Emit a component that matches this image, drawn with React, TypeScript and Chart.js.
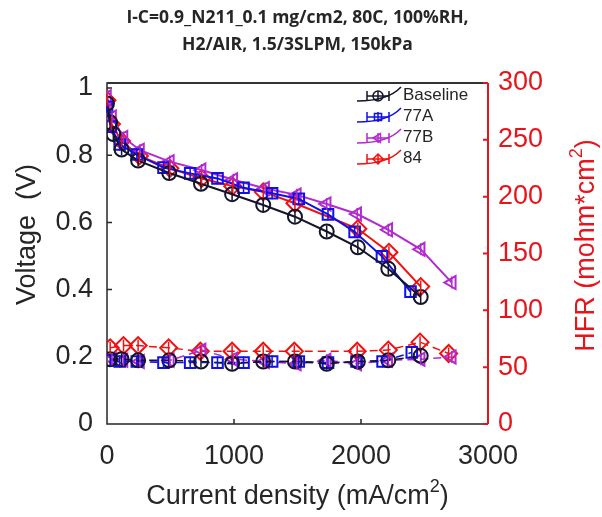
import React, { useEffect, useRef } from 'react';
import { Chart, registerables } from 'chart.js';

Chart.register(...registerables);

const titleLines = ['I-C=0.9_N211_0.1 mg/cm2, 80C, 100%RH,', 'H2/AIR, 1.5/3SLPM, 150kPa'];
const xTitle = ['Current density (mA/cm', '2', ')'];
const yTitle = 'Voltage  (V)';
const y1Title = ['HFR (mohm*cm', '2', ')'];

const seriesNames = ['Baseline', '77A', '77B', '84'];
const seriesColors = ['#14142b', '#1010e8', '#b22ad0', '#f01010'];
const markerStyles = ['circle', 'rect', 'triangle', 'rectRot'];
const markerRotations = [0, 0, -90, 0];
const markerRadii = [7, 7.5, 7.5, 8.5];

const xTicks = [0, 1000, 2000, 3000];
const vTicks = [0, 0.2, 0.4, 0.6, 0.8, 1];
const hfrTicks = [0, 50, 100, 150, 200, 250, 300];

// Baseline
const baselineCurrent = [0, 25, 50, 115, 245, 490, 740, 985, 1230, 1480, 1730, 1975, 2215, 2470];
const baselineVoltage = [0.954, 0.898, 0.863, 0.817, 0.784, 0.747, 0.715, 0.684, 0.652, 0.617, 0.573, 0.526, 0.462, 0.378];
const baselineHfrCurrent = [25, 115, 245, 490, 740, 985, 1230, 1480, 1730, 1975, 2215, 2470];
const baselineHfr = [57, 57, 56, 56, 55, 53, 55, 55, 53, 55, 56, 60];

// 77A
const a77Current = [0, 30, 100, 235, 445, 655, 870, 1075, 1300, 1510, 1740, 1950, 2165, 2390];
const a77Voltage = [0.944, 0.885, 0.832, 0.802, 0.763, 0.746, 0.731, 0.703, 0.687, 0.67, 0.624, 0.572, 0.499, 0.394];
const a77HfrCurrent = [30, 100, 235, 445, 655, 870, 1075, 1300, 1510, 1740, 1965, 2170, 2400];
const a77Hfr = [56, 55, 55, 54, 54, 54, 54, 55, 55, 54, 55, 55, 63];

// 77B
const b77Current = [0, 40, 130, 260, 495, 745, 995, 1245, 1495, 1730, 1970, 2215, 2470, 2715];
const b77Voltage = [0.974, 0.914, 0.853, 0.815, 0.781, 0.756, 0.727, 0.701, 0.682, 0.655, 0.625, 0.578, 0.52, 0.421];
const b77HfrCurrent = [40, 130, 260, 495, 745, 995, 1245, 1495, 1730, 1970, 2215, 2470, 2715];
const b77Hfr = [57, 56, 55, 56, 65, 57, 55, 53, 56, 53, 56, 57, 59];

// 84
const s84Current = [0, 35, 115, 255, 495, 745, 990, 1230, 1480, 1975, 2220, 2470];
const s84Voltage = [0.964, 0.893, 0.842, 0.798, 0.761, 0.731, 0.708, 0.691, 0.657, 0.581, 0.511, 0.409];
const s84HfrCurrent = [25, 130, 245, 485, 735, 985, 1230, 1475, 1970, 2215, 2465, 2690];
const s84Hfr = [67, 69, 69, 67, 64, 64, 64, 64, 64, 65, 72, 62];

const voltageSets = [
  [baselineCurrent, baselineVoltage],
  [a77Current, a77Voltage],
  [b77Current, b77Voltage],
  [s84Current, s84Voltage],
];
const hfrSets = [
  [baselineHfrCurrent, baselineHfr],
  [a77HfrCurrent, a77Hfr],
  [b77HfrCurrent, b77Hfr],
  [s84HfrCurrent, s84Hfr],
];

const AXIS_FONT = '"Liberation Sans", Arial, sans-serif';
const AXIS_COLOR = '#262626';
const RED_AXIS = '#e8141c';

function toPoints(xs: number[], ys: number[]) {
  return xs.map((x, i) => ({ x, y: ys[i] }));
}

function drawMarker(ctx: CanvasRenderingContext2D, style: string, x: number, y: number, r: number, rot: number) {
  ctx.beginPath();
  if (style === 'circle') {
    ctx.arc(x, y, r, 0, Math.PI * 2);
  } else if (style === 'rect') {
    const s = r * Math.SQRT1_2;
    ctx.rect(x - s, y - s, 2 * s, 2 * s);
  } else if (style === 'rectRot') {
    ctx.moveTo(x, y - r);
    ctx.lineTo(x + r, y);
    ctx.lineTo(x, y + r);
    ctx.lineTo(x - r, y);
    ctx.closePath();
  } else if (style === 'triangle') {
    let a = (rot * Math.PI) / 180;
    for (let i = 0; i < 3; i++) {
      const px = x + Math.sin(a) * r;
      const py = y - Math.cos(a) * r;
      if (i === 0) ctx.moveTo(px, py);
      else ctx.lineTo(px, py);
      a += (2 * Math.PI) / 3;
    }
    ctx.closePath();
  }
  ctx.stroke();
}

function drawSuperText(ctx: CanvasRenderingContext2D, parts: string[], size: number, cx: number, cy: number) {
  const mainFont = `${size}px ${AXIS_FONT}`;
  const supFont = `${Math.round(size * 0.68)}px ${AXIS_FONT}`;
  ctx.font = mainFont;
  const w0 = ctx.measureText(parts[0]).width;
  const w2 = ctx.measureText(parts[2]).width;
  ctx.font = supFont;
  const w1 = ctx.measureText(parts[1]).width;
  const total = w0 + w1 + w2;
  let x = cx - total / 2;
  ctx.textAlign = 'left';
  ctx.textBaseline = 'middle';
  ctx.font = mainFont;
  ctx.fillText(parts[0], x, cy);
  x += w0;
  ctx.font = supFont;
  ctx.fillText(parts[1], x, cy - size * 0.36);
  x += w1;
  ctx.font = mainFont;
  ctx.fillText(parts[2], x, cy);
}

const decorPlugin = {
  id: 'decor',
  beforeDatasetsDraw(chart: any) {
    const { ctx, chartArea: a, scales } = chart;
    ctx.save();
    ctx.lineWidth = 1.5;
    ctx.strokeStyle = AXIS_COLOR;
    ctx.beginPath();
    ctx.moveTo(a.right, a.top);
    ctx.lineTo(a.left, a.top);
    ctx.lineTo(a.left, a.bottom);
    ctx.lineTo(a.right, a.bottom);
    scales.y.ticks.forEach((t: any) => {
      const yy = scales.y.getPixelForValue(t.value);
      ctx.moveTo(a.left, yy);
      ctx.lineTo(a.left + 5, yy);
    });
    scales.x.ticks.forEach((t: any) => {
      const xx = scales.x.getPixelForValue(t.value);
      ctx.moveTo(xx, a.bottom);
      ctx.lineTo(xx, a.bottom - 5);
    });
    ctx.stroke();
    ctx.restore();
  },
  afterDatasetsDraw(chart: any) {
    const { ctx } = chart;
    ctx.save();
    // tiny horizontal error bars: caps collapse into a vertical stroke through each marker
    chart.data.datasets.forEach((ds: any, i: number) => {
      const meta = chart.getDatasetMeta(i);
      ctx.strokeStyle = ds.borderColor;
      ctx.lineWidth = 1.5;
      ctx.beginPath();
      meta.data.forEach((p: any) => {
        ctx.moveTo(p.x, p.y - 6);
        ctx.lineTo(p.x, p.y + 6);
      });
      ctx.stroke();
    });
    ctx.restore();
  },
  afterDraw(chart: any) {
    const { ctx, chartArea: a, scales } = chart;
    ctx.save();
    ctx.setLineDash([]);
    // top frame line
    ctx.fillStyle = '#333333';
    ctx.fillRect(a.left, a.top - 1, a.right - a.left, 2);
    // right (red) axis
    ctx.strokeStyle = RED_AXIS;
    ctx.lineWidth = 2;
    ctx.beginPath();
    ctx.moveTo(a.right, a.top);
    ctx.lineTo(a.right, a.bottom);
    scales.y1.ticks.forEach((t: any) => {
      const yy = scales.y1.getPixelForValue(t.value);
      ctx.moveTo(a.right, yy);
      ctx.lineTo(a.right - 5, yy);
    });
    ctx.stroke();
    // title
    ctx.fillStyle = '#262626';
    ctx.font = 'bold 17.5px "Open Sans", "Liberation Sans", sans-serif';
    ctx.textAlign = 'center';
    ctx.textBaseline = 'middle';
    const cx = (a.left + a.right) / 2;
    ctx.fillText(titleLines[0], cx, 18);
    ctx.fillText(titleLines[1], cx, 45);
    // x title
    ctx.fillStyle = AXIS_COLOR;
    drawSuperText(ctx, xTitle, 27, cx, 497);
    // y title
    const cy = (a.top + a.bottom) / 2;
    ctx.save();
    ctx.translate(28, cy - 19);
    ctx.rotate(-Math.PI / 2);
    ctx.font = `27px ${AXIS_FONT}`;
    ctx.textAlign = 'center';
    ctx.textBaseline = 'middle';
    ctx.fillText(yTitle, 0, 0);
    ctx.restore();
    // y1 title
    ctx.save();
    ctx.translate(587, cy - 8);
    ctx.rotate(-Math.PI / 2);
    ctx.fillStyle = RED_AXIS;
    drawSuperText(ctx, y1Title, 27, 0, 0);
    ctx.restore();
    // legend
    const ys = [95, 116, 137, 158];
    seriesNames.forEach((name, i) => {
      const y = ys[i];
      const col = seriesColors[i];
      ctx.strokeStyle = col;
      ctx.lineWidth = 1.5;
      ctx.beginPath();
      ctx.moveTo(357, y + 6);
      ctx.quadraticCurveTo(388, y + 6, 401, y - 8);
      ctx.stroke();
      ctx.beginPath();
      ctx.moveTo(367, y + 1);
      ctx.lineTo(389, y + 1);
      ctx.moveTo(367, y - 4);
      ctx.lineTo(367, y + 6);
      ctx.moveTo(389, y - 4);
      ctx.lineTo(389, y + 6);
      ctx.moveTo(378, y - 4);
      ctx.lineTo(378, y + 6);
      ctx.stroke();
      drawMarker(ctx, markerStyles[i], 378, y + 1, 5, markerRotations[i]);
      ctx.fillStyle = AXIS_COLOR;
      ctx.font = `17px ${AXIS_FONT}`;
      ctx.textAlign = 'left';
      ctx.textBaseline = 'middle';
      ctx.fillText(name, 403, y);
    });
    ctx.restore();
  },
};

export default function App() {
  const ref = useRef<HTMLCanvasElement | null>(null);

  useEffect(() => {
    if (!ref.current) return;
    const datasets: any[] = [];
    voltageSets.forEach(([xs, ys], i) => {
      datasets.push({
        label: seriesNames[i],
        data: toPoints(xs, ys),
        yAxisID: 'y',
        borderColor: seriesColors[i],
        backgroundColor: 'rgba(0,0,0,0)',
        borderWidth: 2,
        pointStyle: markerStyles[i],
        pointRotation: markerRotations[i],
        pointRadius: markerRadii[i],
        pointBorderWidth: 2,
        pointBackgroundColor: 'rgba(0,0,0,0)',
        tension: 0,
      });
    });
    hfrSets.forEach(([xs, ys], i) => {
      datasets.push({
        label: seriesNames[i] + ' HFR',
        data: toPoints(xs, ys),
        yAxisID: 'y1',
        borderColor: seriesColors[i],
        backgroundColor: 'rgba(0,0,0,0)',
        borderWidth: 1.5,
        borderDash: [8, 5],
        pointStyle: markerStyles[i],
        pointRotation: markerRotations[i],
        pointRadius: markerRadii[i],
        pointBorderWidth: 2,
        pointBackgroundColor: 'rgba(0,0,0,0)',
        tension: 0,
      });
    });

    const chart = new Chart(ref.current, {
      type: 'line',
      data: { datasets },
      options: {
        responsive: false,
        animation: false,
        layout: { padding: { top: 83, left: 0, right: 0, bottom: 0 } },
        plugins: {
          legend: { display: false },
          title: { display: false },
          tooltip: { enabled: false },
        },
        scales: {
          x: {
            type: 'linear',
            min: 0,
            max: 3000,
            afterBuildTicks: (s: any) => {
              s.ticks = xTicks.map((v) => ({ value: v }));
            },
            afterFit: (s: any) => {
              s.height = 93;
            },
            grid: { display: false, drawTicks: false },
            border: { display: false },
            ticks: {
              color: AXIS_COLOR,
              font: { family: AXIS_FONT, size: 27 },
              padding: 16,
              maxRotation: 0,
              callback: (v: any) => String(v),
            },
          },
          y: {
            type: 'linear',
            position: 'left',
            min: 0,
            max: 1.015,
            afterBuildTicks: (s: any) => {
              s.ticks = vTicks.map((v) => ({ value: v }));
            },
            afterFit: (s: any) => {
              s.width = 107;
            },
            grid: { display: false, drawTicks: false },
            border: { display: false },
            ticks: {
              color: AXIS_COLOR,
              font: { family: AXIS_FONT, size: 27 },
              padding: 14,
              callback: (v: any) => String(Number(Number(v).toFixed(1))),
            },
          },
          y1: {
            type: 'linear',
            position: 'right',
            min: 0,
            max: 300,
            afterBuildTicks: (s: any) => {
              s.ticks = hfrTicks.map((v) => ({ value: v }));
            },
            afterFit: (s: any) => {
              s.width = 114;
            },
            grid: { display: false, drawTicks: false },
            border: { display: false },
            ticks: {
              color: RED_AXIS,
              font: { family: AXIS_FONT, size: 27 },
              padding: 10,
              callback: (v: any) => String(v),
            },
          },
        },
      },
      plugins: [decorPlugin],
    } as any);

    return () => chart.destroy();
  }, []);

  return (
    <div style={{ position: 'absolute', left: 0, top: 0, width: 602, height: 517, background: '#fff' }}>
      <canvas ref={ref} width={602} height={517} style={{ display: 'block', width: 602, height: 517 }} />
    </div>
  );
}
